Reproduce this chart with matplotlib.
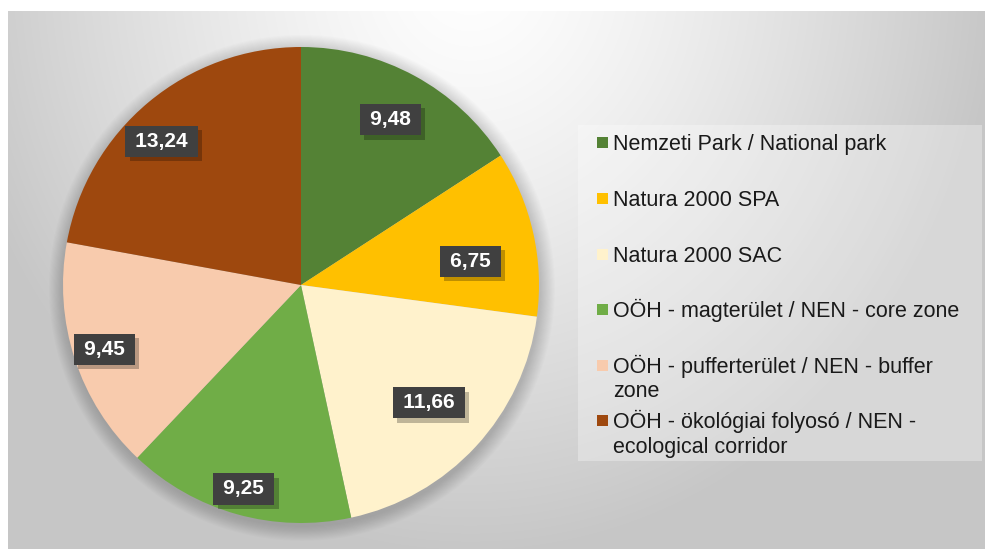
import numpy as np
import matplotlib.pyplot as plt
from matplotlib.patches import Circle, Rectangle
import matplotlib.patheffects as pe

plt.rcParams['font.family'] = ['Liberation Sans', 'DejaVu Sans']

# ---- data ----
categories = [
    "Nemzeti Park / National park",
    "Natura 2000 SPA",
    "Natura 2000 SAC",
    "OÖH - magterület / NEN - core zone",
    "OÖH - pufferterület / NEN - buffer\nzone",
    "OÖH - ökológiai folyosó / NEN -\necological corridor",
]
values = [9.48, 6.75, 11.66, 9.25, 9.45, 13.24]
value_labels = ["9,48", "6,75", "11,66", "9,25", "9,45", "13,24"]
colors = ["#548235", "#FFC000", "#FFF2CC", "#70AD47", "#F8CBAD", "#9E480E"]

# ---- layout ----
W, H = 985, 549
label_dist = [0.79, 0.72, 0.73, 0.89, 0.87, 0.84]
label_ang_off = [0, -4.8, 0, 0, 0, 4.3]
legend_baselines = [150, 205.7, 261.7, 316.7, 372.7, 428.3]
line_px = 24.5

fig = plt.figure(figsize=(W / 100, H / 100), dpi=100)
fig.patch.set_facecolor('white')

# background gradient (pixel coordinates)
bg = fig.add_axes([0, 0, 1, 1])
bg.set_xlim(0, W)
bg.set_ylim(H, 0)
bg.axis('off')
x0, y0 = 8, 11
yy, xx = np.mgrid[y0:H, x0:W]
d = np.sqrt(((xx - 470) / 560.0) ** 2 + ((yy + 30) / 620.0) ** 2)
g = np.clip(1 - 0.24 * d ** 1.3, 0.78, 1.0)
img = np.dstack([g, g, g])
bg.imshow(img, extent=(x0, W, H, y0), origin='upper', aspect='auto',
          interpolation='bilinear', zorder=0)

# legend box + entries
bg.add_patch(Rectangle((578, 125), 404, 336, facecolor='white', alpha=0.3,
                       edgecolor='none', zorder=1))
for lab, col, yb in zip(categories, colors, legend_baselines):
    bg.add_patch(Rectangle((597, yb - 13), 11, 11, facecolor=col,
                           edgecolor='none', zorder=2))
    n = lab.count("\n")
    bg.text(613, yb + n * line_px, lab, fontsize=15.5, color='#1a1a1a',
            va='baseline', ha='left', linespacing=1.23, zorder=3)

# pie axes
R = 238.0
cx, cy = 301.0, 285.0
m = 1.15
ax = fig.add_axes([(cx - m * R) / W, (H - cy - m * R) / H, 2 * m * R / W, 2 * m * R / H])
ax.set_facecolor('none')
ax.axis('off')

# soft shadow around pie
for i in range(1, 15):
    ax.add_patch(Circle((0.004, -0.012), 1 + i * 0.0045, facecolor='black',
                        alpha=0.012, edgecolor='none', zorder=0))

wedges, _ = ax.pie(values, colors=colors, startangle=90, counterclock=False,
                   radius=1, wedgeprops=dict(linewidth=0))
for w in wedges:
    w.set_zorder(2)
ax.set_xlim(-m, m)
ax.set_ylim(-m, m)

total = float(sum(values))
cum = 0.0
for v, txt, dist, aoff in zip(values, value_labels, label_dist, label_ang_off):
    mid = cum + v / 2.0
    cum += v
    ang = np.deg2rad(90 - 360.0 * mid / total + aoff)
    x, y = dist * np.cos(ang), dist * np.sin(ang)
    s = "\u2009" + txt + "\u2009"
    t = ax.text(x, y, s, fontsize=15, fontweight='bold', color='white',
                ha='center', va='center', zorder=4,
                bbox=dict(boxstyle='square,pad=0.29', facecolor='#404040',
                          edgecolor='none'))
    t.get_bbox_patch().set_path_effects([
        pe.SimplePatchShadow(offset=(3, -3), shadow_rgbFace='black', alpha=0.25),
        pe.Normal(),
    ])

fig.savefig('out.png', dpi=100)
